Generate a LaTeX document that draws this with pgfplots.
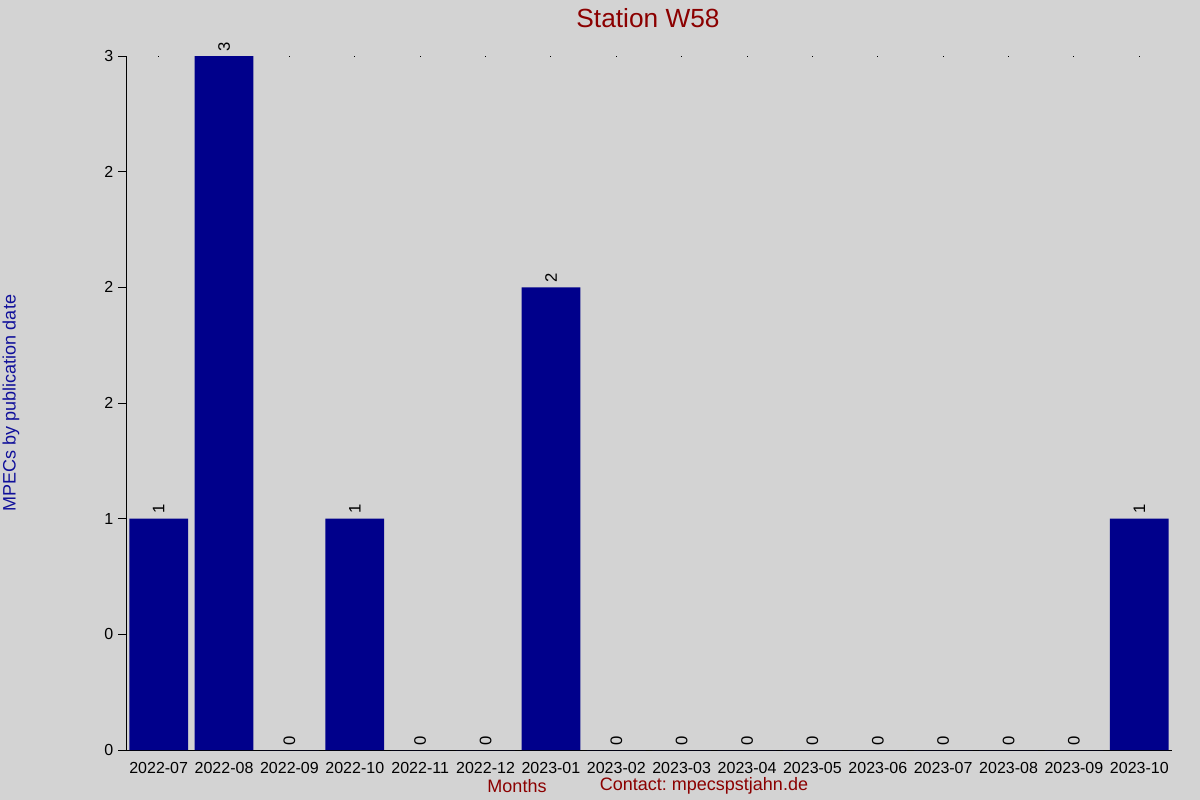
\documentclass[border=0pt]{standalone}
\usepackage{fontspec}
\setmainfont{Liberation Sans}
\usepackage{pgfplots}
\pgfplotsset{compat=1.18}
\frenchspacing
\definecolor{bgray}{HTML}{D3D3D3}
\definecolor{barblue}{HTML}{00008B}
\definecolor{titlered}{HTML}{8B0000}
\definecolor{labblue}{HTML}{10109A}
\begin{document}
\begin{tikzpicture}
\fill[bgray] (0,0) rectangle (900pt,600pt);
\useasboundingbox (0,0) rectangle (900pt,600pt);
\begin{axis}[
    at={(94.5pt,37.5pt)}, anchor=south west,
    scale only axis, width=784.5pt, height=520.5pt,
    xmin=-0.5, xmax=15.5, ymin=0, ymax=3,
    axis x line*=bottom, axis y line*=left,
    axis line style={-, black, line width=0.75pt},
    xtick={0,...,15},
    xticklabels={2022-07,2022-08,2022-09,2022-10,2022-11,2022-12,2023-01,2023-02,2023-03,2023-04,2023-05,2023-06,2023-07,2023-08,2023-09,2023-10},
    ytick={0,0.5,...,3},
    yticklabels={0,0,1,2,2,2,3},
    tick align=outside,
    major tick length=6pt,
    xtick style={draw=none},
    ytick style={black, line width=0.75pt},
    xmajorgrids,
    major x grid style={black, line width=0.75pt, dash pattern=on 0pt off 519.75pt on 0.75pt off 20pt},
    tick label style={font=\fontsize{12}{14}\selectfont, text=black},
    /pgf/number format/assume math mode=true,
]
% MPECs per month
\addplot[ybar, bar width=0.9, fill=barblue, draw=none,
    nodes near coords,
    every node near coord/.append style={rotate=90, anchor=west, font=\fontsize{12.5}{14}\selectfont, text=black}]
    coordinates {(0,1) (1,3) (2,0) (3,1) (4,0) (5,0) (6,2) (7,0) (8,0) (9,0) (10,0) (11,0) (12,0) (13,0) (14,0) (15,1)};
\end{axis}
\node[text=titlered, font=\fontsize{19.7}{22}\selectfont] at (486pt,586.5pt) {Station W58};
\node[text=labblue, rotate=90, font=\fontsize{13.5}{16}\selectfont] at (8.25pt,297.75pt) {MPECs by publication date};
\node[text=titlered, font=\fontsize{13.5}{16}\selectfont] at (387.75pt,10.5pt) {Months};
\node[text=titlered, font=\fontsize{13.5}{16}\selectfont] at (528pt,10.5pt) {Contact: mpecspstjahn.de};
\end{tikzpicture}
\end{document}
